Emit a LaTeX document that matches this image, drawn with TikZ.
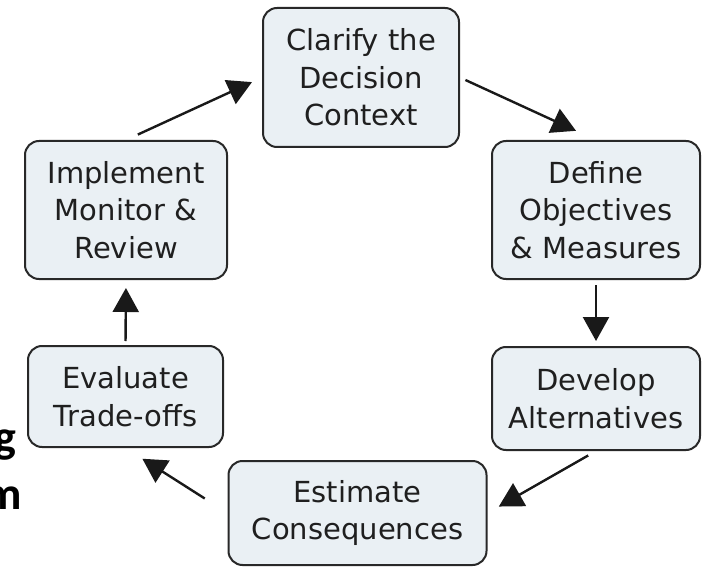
\documentclass[tikz,border=0pt]{standalone}
\usepackage{fontspec}
\setmainfont{DejaVu Sans}
\newfontfamily\sidefont{Carlito}
\usetikzlibrary{arrows.meta}
\definecolor{boxfill}{RGB}{234,240,244}
\definecolor{boxline}{RGB}{40,40,40}

\begin{document}
\begin{tikzpicture}[x=1pt,y=-1pt,
  stepbox/.style={draw=boxline, line width=2pt, fill=boxfill, rounded corners=14pt,
    align=center, text=black!88, inner sep=0pt, font=\fontsize{29}{37.5}\selectfont},
  cyc/.style={line width=2.4pt, black!90, -{Triangle[length=\l, width=\w]}}]
\def\l{24pt}
\def\w{26pt}
\useasboundingbox (0,0) rectangle (704,567);
\clip (0,0) rectangle (704,567);
%\fill[white] (0,0) rectangle (704,567);
\node [stepbox, minimum width=196pt, minimum height=139pt, name=clar] at (361,77.5) {Clarify the\\Decision\\Context};
\node [stepbox, minimum width=208pt, minimum height=138pt, name=def]  at (596,210) {Define\\Objectives\\\& Measures};
\node [stepbox, minimum width=208pt, minimum height=103pt, name=dev]  at (596,398.5) {Develop\\Alternatives};
\node [stepbox, minimum width=258pt, minimum height=104pt, name=est]  at (357.5,513) {Estimate\\Consequences};
\node [stepbox, minimum width=195pt, minimum height=101pt, name=eval] at (125.5,396.5) {Evaluate\\Trade-offs};
\node [stepbox, minimum width=202pt, minimum height=138pt, name=impl] at (126,210) {Implement\\Monitor \&\\Review};
% cut-off words at the left edge
\node [anchor=base east, inner sep=0pt, font=\sidefont\bfseries\fontsize{46}{46}\selectfont, name=frag1] at (17,452) {g};
\node [anchor=base east, inner sep=0pt, font=\sidefont\bfseries\fontsize{46}{46}\selectfont, name=frag2] at (22,509) {m};
\draw [cyc, shorten <=13pt, shorten >=11pt] (impl.north) -- (clar.west);
\draw [cyc, shorten <=6pt, shorten >=22pt] (clar.east) -- (def.north);
\draw [cyc, shorten <=5pt, shorten >=5pt] (def.south) -- (dev.north);
\draw [cyc, shorten <=9pt, shorten >=13pt] (dev.south) -- (est.east);
\draw [cyc, shorten <=27pt, shorten >=20pt] (est.west) -- (eval.south);
\draw [cyc, shorten <=4pt, shorten >=8pt] (eval.north) -- (impl.south);
\end{tikzpicture}
\end{document}
